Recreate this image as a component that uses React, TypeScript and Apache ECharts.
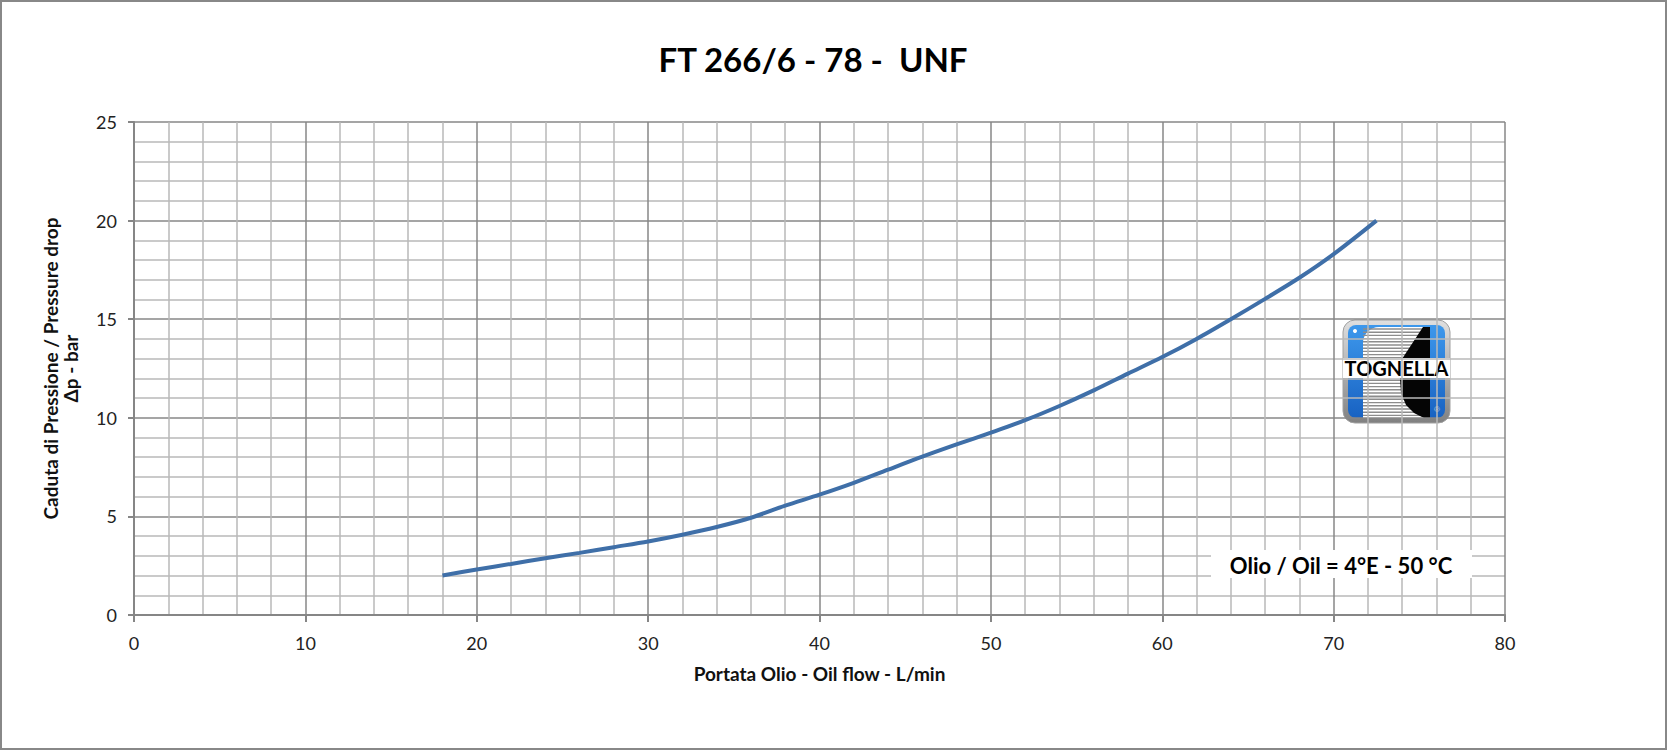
import React, { useEffect, useRef } from "react";
import * as echarts from "echarts";

const chartTitle = "FT 266/6 - 78 -  UNF";
const xAxisTitle = "Portata Olio - Oil flow - L/min";
const yAxisTitle = "Caduta di Pressione / Pressure drop\nΔp - bar";
const noteText = "Olio / Oil = 4°E - 50 °C";
const logoText = "TOGNELLA";

const flow = [18, 20, 22, 24, 26, 28, 30, 32, 34, 36, 38, 40, 42, 44, 46, 48, 50, 52, 54, 56, 58, 60, 62, 64, 66, 68, 70, 72.5];
const pressureDrop = [
  2.0, 2.31, 2.59, 2.88, 3.15, 3.44, 3.73, 4.07, 4.46, 4.93, 5.55, 6.1, 6.7, 7.37, 8.03,
  8.65, 9.25, 9.88, 10.6, 11.39, 12.24, 13.08, 14.0, 15.0, 16.03, 17.1, 18.3, 20.0,
];

const FONT = "Lato, 'Liberation Sans', sans-serif";

function buildLogo() {
  const stripes: any[] = [];
  for (let y = 9; y < 98; y += 3.2) {
    stripes.push({
      type: "line",
      shape: { x1: 20, y1: y, x2: 87, y2: y },
      style: { stroke: "#8c8c8c", lineWidth: 1.4 },
    });
  }
  return {
    type: "group",
    x: 1343,
    y: 320,
    z: 100,
    children: [
      {
        type: "rect",
        shape: { x: 0, y: 0, width: 107, height: 103, r: 12 },
        style: {
          fill: new echarts.graphic.LinearGradient(0, 0, 0, 1, [
            { offset: 0, color: "#e0e0e0" },
            { offset: 1, color: "#808080" },
          ]),
          stroke: "#a0a0a0",
          lineWidth: 1,
        },
      },
      {
        type: "rect",
        shape: { x: 5, y: 5, width: 97, height: 93, r: 8 },
        style: {
          fill: new echarts.graphic.LinearGradient(0, 0, 0, 1, [
            { offset: 0, color: "#3d98ec" },
            { offset: 1, color: "#1862c2" },
          ]),
        },
      },
      {
        type: "rect",
        shape: { x: 20, y: 7, width: 67, height: 91, r: [16, 0, 0, 0] },
        style: { fill: "#ffffff" },
      },
      ...stripes,
      {
        type: "polygon",
        shape: {
          points: [
            [80, 7], [87, 7], [87, 98], [81, 98], [71, 93], [63, 85],
            [58, 73], [57, 58], [57, 42],
          ],
        },
        style: { fill: "#050505" },
      },
      {
        type: "rect",
        shape: { x: 0, y: 38, width: 107, height: 20 },
        style: { fill: "#ffffff" },
      },
      {
        type: "text",
        x: 53.5,
        y: 48,
        style: {
          text: logoText,
          fontFamily: FONT,
          fontWeight: "bold",
          fontSize: 20,
          fill: "#000",
          align: "center",
          verticalAlign: "middle",
        },
      },
      { type: "circle", shape: { cx: 12, cy: 11, r: 2 }, style: { fill: "#ffffff" } },
      {
        type: "text",
        x: 94,
        y: 89,
        style: { text: "®", fontSize: 8, fill: "#ddd", align: "center", verticalAlign: "middle" },
      },
    ],
  };
}

export default function App() {
  const ref = useRef<HTMLDivElement>(null);

  useEffect(() => {
    document.body.style.margin = "0";
    const chart = echarts.init(ref.current!, null, { renderer: "svg" });
    const data = flow.map((x, i) => [x, pressureDrop[i]]);
    chart.setOption({
      animation: false,
      backgroundColor: "#ffffff",
      title: {
        text: chartTitle,
        left: 808,
        top: 37,
        textAlign: "center",
        textStyle: { fontFamily: FONT, fontWeight: "bold", fontSize: 33, color: "#000" },
      },
      grid: { left: 134, right: 163, top: 122, bottom: 136, containLabel: false },
      xAxis: {
        type: "value",
        min: 0,
        max: 80,
        interval: 10,
        name: xAxisTitle,
        nameLocation: "middle",
        nameGap: 49,
        nameTextStyle: { fontFamily: FONT, fontWeight: "bold", fontSize: 19, color: "#111" },
        axisLine: { show: true, onZero: false, lineStyle: { color: "#868686", width: 2 } },
        axisTick: { show: true, length: 7, lineStyle: { color: "#868686", width: 2 } },
        axisLabel: { fontFamily: FONT, fontSize: 18, color: "#222", margin: 19 },
        splitLine: { show: true, lineStyle: { color: "#878787", width: 1.5 } },
        minorTick: { show: false, splitNumber: 5 },
        minorSplitLine: { show: true, lineStyle: { color: "#b8b8b8", width: 1.5 } },
      },
      yAxis: {
        type: "value",
        min: 0,
        max: 25,
        interval: 5,
        name: yAxisTitle,
        nameLocation: "middle",
        nameRotate: 90,
        nameGap: 54,
        nameTextStyle: { fontFamily: FONT, fontWeight: "bold", fontSize: 19, color: "#111", lineHeight: 20 },
        axisLine: { show: true, onZero: false, lineStyle: { color: "#868686", width: 2 } },
        axisTick: { show: true, length: 6, lineStyle: { color: "#868686", width: 2 } },
        axisLabel: { fontFamily: FONT, fontSize: 18, color: "#222", margin: 17 },
        splitLine: { show: true, lineStyle: { color: "#878787", width: 1.5 } },
        minorTick: { show: false, splitNumber: 5 },
        minorSplitLine: { show: true, lineStyle: { color: "#b8b8b8", width: 1.5 } },
      },
      series: [
        {
          type: "line",
          data,
          smooth: 0.3,
          showSymbol: false,
          symbol: "none",
          lineStyle: { color: "#3f6fa8", width: 4 },
          z: 10,
        },
      ],
      graphic: [
        {
          type: "rect",
          z: 100,
          shape: { x: 1, y: 1, width: 1665, height: 748 },
          style: { fill: "none", stroke: "#888888", lineWidth: 2 },
        },
        {
          type: "rect",
          z: 100,
          shape: { x: 1211, y: 550, width: 261, height: 28 },
          style: { fill: "#ffffff" },
        },
        {
          type: "text",
          z: 101,
          x: 1341,
          y: 565,
          style: {
            text: noteText,
            fontFamily: FONT,
            fontWeight: "bold",
            fontSize: 22,
            fill: "#000",
            align: "center",
            verticalAlign: "middle",
          },
        },
        buildLogo(),
      ],
    });
    return () => chart.dispose();
  }, []);

  return (
    <div
      ref={ref}
      style={{ position: "absolute", left: 0, top: 0, width: 1668, height: 751, background: "#fff" }}
    />
  );
}
